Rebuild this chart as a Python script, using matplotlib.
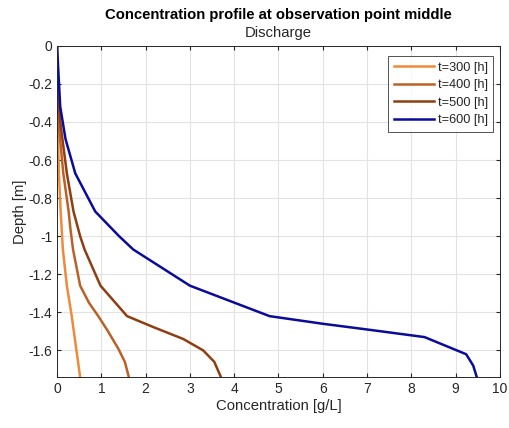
import numpy as np
import matplotlib
matplotlib.use('Agg')
import matplotlib.pyplot as plt

plt.rcParams['font.family'] = ['Liberation Sans', 'DejaVu Sans']

# depth [m] / concentration [g/L]
d300 = [0, -0.2, -0.4, -0.67, -0.87, -1.07, -1.26, -1.42, -1.74]
c300 = [0, 0.0, 0.01, 0.04, 0.08, 0.13, 0.22, 0.33, 0.52]

d400 = [-0.2, -0.4, -0.67, -0.87, -0.96, -1.07, -1.26, -1.35, -1.42, -1.5, -1.59, -1.66, -1.74]
c400 = [0.0, 0.03, 0.14, 0.26, 0.30, 0.36, 0.52, 0.72, 0.93, 1.15, 1.38, 1.53, 1.62]

d500 = [-0.2, -0.4, -0.67, -0.87, -1.0, -1.07, -1.26, -1.42, -1.48, -1.54, -1.6, -1.66, -1.74]
c500 = [0.0, 0.07, 0.22, 0.37, 0.52, 0.62, 0.98, 1.58, 2.2, 2.85, 3.3, 3.55, 3.70]

d600 = [0, -0.1, -0.32, -0.49, -0.67, -0.87, -1.0, -1.07, -1.26, -1.34, -1.42, -1.46, -1.49, -1.53, -1.62, -1.68, -1.74]
c600 = [0, 0.02, 0.07, 0.19, 0.41, 0.86, 1.40, 1.72, 3.0, 3.9, 4.8, 6.0, 7.0, 8.3, 9.24, 9.4, 9.48]

labels = ['t=300 [h]', 't=400 [h]', 't=500 [h]', 't=600 [h]']
colors = ['#EE8A3A', '#BB6128', '#8E3F12', '#0B0B9A']

fig = plt.figure(figsize=(5.1, 4.28), dpi=100)
ax = fig.add_axes([0.112, 0.119, 0.868, 0.774])

for c, d, lab, col in zip([c300, c400, c500, c600], [d300, d400, d500, d600], labels, colors):
    ax.plot(c, d, color=col, lw=1.8, label=lab)

ax.set_xlim(0, 10)
ax.set_ylim(-1.74, 0)
ax.set_xticks(np.arange(0, 11, 1))
ax.set_yticks(np.arange(-1.6, 0.01, 0.2))
ax.set_yticklabels(['-1.6', '-1.4', '-1.2', '-1', '-0.8', '-0.6', '-0.4', '-0.2', '0'])
ax.grid(True, color='#E3E3E3', lw=0.8)
ax.tick_params(direction='in', length=3, labelsize=10, colors='#262626', top=True, right=True)
for s in ax.spines.values():
    s.set_color('#262626')
    s.set_linewidth(0.7)

ax.set_xlabel('Concentration [g/L]', fontsize=10.7, color='#262626', labelpad=2)
ax.set_ylabel('Depth [m]', fontsize=10.7, color='#262626', labelpad=1)
fig.text(0.546, 0.966, 'Concentration profile at observation point middle',
         ha='center', va='center', fontsize=10.7, fontweight='bold')
fig.text(0.546, 0.922, 'Discharge', ha='center', va='center', fontsize=10.7, color='#262626')

leg = ax.legend(loc='upper right', fontsize=9.2, frameon=True, fancybox=False,
                edgecolor='#262626', handlelength=3.1, borderpad=0.45, labelspacing=0.42,
                handletextpad=0.3, bbox_to_anchor=(1.0, 0.988))
leg.get_frame().set_linewidth(0.7)
for t in leg.get_texts():
    t.set_color('#262626')

fig.savefig('out.png', dpi=100)
